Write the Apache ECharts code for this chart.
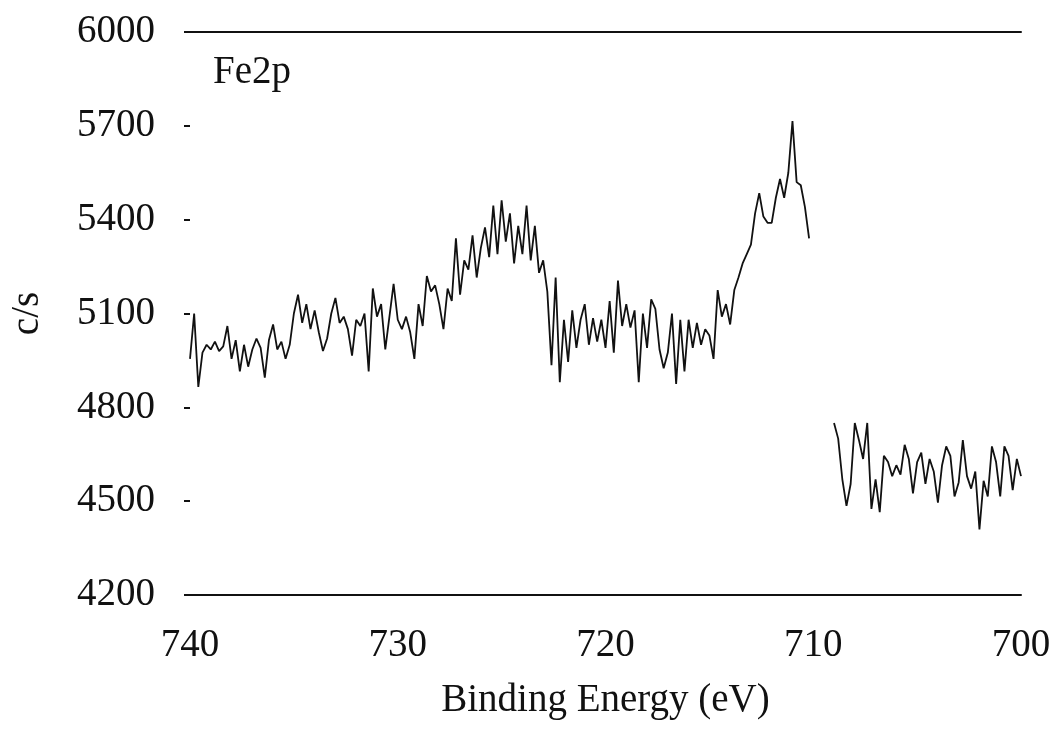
<!DOCTYPE html>
<html>
<head>
<meta charset="utf-8">
<title>Fe2p</title>
<script src="https://cdn.jsdelivr.net/npm/echarts@6/dist/echarts.min.js"></script>
<style>
  html, body { margin: 0; padding: 0; background: #ffffff; }
  #chart { width: 1058px; height: 739px; }
</style>
</head>
<body>
<div id="chart"></div>
<script>
// Fe2p XPS scan: binding energy (eV) against count rate (c/s), 0.2 eV steps
const bindingEnergy = [
  740.0, 739.8, 739.6, 739.4, 739.2, 739.0, 738.8, 738.6, 738.4, 738.2,
  738.0, 737.8, 737.6, 737.4, 737.2, 737.0, 736.8, 736.6, 736.4, 736.2,
  736.0, 735.8, 735.6, 735.4, 735.2, 735.0, 734.8, 734.6, 734.4, 734.2,
  734.0, 733.8, 733.6, 733.4, 733.2, 733.0, 732.8, 732.6, 732.4, 732.2,
  732.0, 731.8, 731.6, 731.4, 731.2, 731.0, 730.8, 730.6, 730.4, 730.2,
  730.0, 729.8, 729.6, 729.4, 729.2, 729.0, 728.8, 728.6, 728.4, 728.2,
  728.0, 727.8, 727.6, 727.4, 727.2, 727.0, 726.8, 726.6, 726.4, 726.2,
  726.0, 725.8, 725.6, 725.4, 725.2, 725.0, 724.8, 724.6, 724.4, 724.2,
  724.0, 723.8, 723.6, 723.4, 723.2, 723.0, 722.8, 722.6, 722.4, 722.2,
  722.0, 721.8, 721.6, 721.4, 721.2, 721.0, 720.8, 720.6, 720.4, 720.2,
  720.0, 719.8, 719.6, 719.4, 719.2, 719.0, 718.8, 718.6, 718.4, 718.2,
  718.0, 717.8, 717.6, 717.4, 717.2, 717.0, 716.8, 716.6, 716.4, 716.2,
  716.0, 715.8, 715.6, 715.4, 715.2, 715.0, 714.8, 714.6, 714.4, 714.2,
  714.0, 713.8, 713.6, 713.4, 713.2, 713.0, 712.8, 712.6, 712.4, 712.2,
  712.0, 711.8, 711.6, 711.4, 711.2, 711.0, 710.8, 710.6, 710.4, 710.2,
  710.0, 709.8, 709.6, 709.4, 709.2, 709.0, 708.8, 708.6, 708.4, 708.2,
  708.0, 707.8, 707.6, 707.4, 707.2, 707.0, 706.8, 706.6, 706.4, 706.2,
  706.0, 705.8, 705.6, 705.4, 705.2, 705.0, 704.8, 704.6, 704.4, 704.2,
  704.0, 703.8, 703.6, 703.4, 703.2, 703.0, 702.8, 702.6, 702.4, 702.2,
  702.0, 701.8, 701.6, 701.4, 701.2, 701.0, 700.8, 700.6, 700.4, 700.2,
  700.0
];

// counts per second; null marks points missing from the scan
const countRate = [
  4955, 5100, 4865, 4975, 5000, 4985, 5010, 4980, 4995, 5060,
  4955, 5015, 4915, 5000, 4930, 4985, 5020, 4990, 4895, 5015,
  5065, 4985, 5010, 4955, 5000, 5100, 5160, 5070, 5130, 5050,
  5110, 5040, 4980, 5020, 5100, 5150, 5070, 5090, 5050, 4965,
  5080, 5060, 5100, 4915, 5180, 5090, 5130, 4985, 5090, 5195,
  5080, 5050, 5090, 5040, 4955, 5130, 5060, 5220, 5170, 5190,
  5130, 5050, 5180, 5140, 5340, 5160, 5270, 5240, 5350, 5215,
  5310, 5375, 5280, 5445, 5290, 5462, 5330, 5420, 5260, 5380,
  5290, 5445, 5270, 5380, 5230, 5270, 5170, 4935, 5215, 4880,
  5080, 4945, 5110, 4990, 5080, 5130, 5000, 5085, 5010, 5080,
  4990, 5140, 4975, 5205, 5060, 5130, 5055, 5110, 4880, 5100,
  4990, 5145, 5115, 4985, 4925, 4975, 5100, 4875, 5080, 4915,
  5080, 4990, 5070, 5000, 5050, 5030, 4955, 5175, 5090, 5130,
  5065, 5175, 5215, 5260, 5290, 5320, 5420, 5485, 5410, 5390,
  5390, 5470, 5530, 5470, 5550, 5715, 5520, 5510, 5440, 5340,
  null, null, null, null, null, 4750, 4700, 4570, 4485, 4555,
  4750, 4695, 4635, 4750, 4475, 4570, 4465, 4645, 4625, 4580,
  4615, 4585, 4680, 4635, 4525, 4625, 4655, 4555, 4635, 4595,
  4495, 4615, 4675, 4645, 4515, 4560, 4695, 4580, 4540, 4595,
  4410, 4565, 4515, 4675, 4625, 4515, 4675, 4645, 4535, 4635,
  4580
];

const energyTicks = { min: 700, max: 740, interval: 10 };
const countTicks = { min: 4200, max: 6000, interval: 300 };

const seriesData = bindingEnergy.map((e, i) => [e, countRate[i]]);

const serif = '"Liberation Serif", "Times New Roman", serif';
const ink = '#111111';

const chart = echarts.init(document.getElementById('chart'), null, { renderer: 'canvas' });

chart.setOption({
  backgroundColor: '#ffffff',
  animation: false,
  grid: { left: 177, right: 37, top: 32, bottom: 144, containLabel: false },
  graphic: [{
    type: 'text',
    left: 213,
    top: 53,
    style: { text: 'Fe2p', font: '39px ' + serif, fill: ink }
  }],
  xAxis: [{
    type: 'value',
    inverse: true,
    min: energyTicks.min,
    max: energyTicks.max,
    interval: energyTicks.interval,
    position: 'bottom',
    name: 'Binding Energy (eV)',
    nameLocation: 'middle',
    nameGap: 86,
    nameTextStyle: { fontFamily: serif, fontSize: 39, color: ink },
    axisLine: { show: true, lineStyle: { color: ink, width: 2 } },
    axisTick: { show: false },
    splitLine: { show: false },
    axisLabel: { fontFamily: serif, fontSize: 39, color: ink, margin: 31 }
  }, {
    // plain frame line along the top of the plot
    type: 'value',
    inverse: true,
    min: energyTicks.min,
    max: energyTicks.max,
    position: 'top',
    axisLine: { show: true, lineStyle: { color: ink, width: 2 } },
    axisTick: { show: false },
    axisLabel: { show: false },
    splitLine: { show: false }
  }],
  yAxis: {
    type: 'value',
    min: countTicks.min,
    max: countTicks.max,
    interval: countTicks.interval,
    name: 'c/s',
    nameLocation: 'middle',
    nameRotate: 90,
    nameGap: 143,
    nameTextStyle: { fontFamily: serif, fontSize: 39, color: ink },
    axisLine: { show: false },
    axisTick: { show: true, length: 6, lineStyle: { color: ink, width: 2 } },
    splitLine: { show: false },
    axisLabel: {
      fontFamily: serif, fontSize: 39, color: ink, margin: 35,
      formatter: (v) => String(v)
    }
  },
  series: [{
    type: 'line',
    xAxisIndex: 0,
    data: seriesData,
    showSymbol: false,
    connectNulls: false,
    lineStyle: { color: ink, width: 1.8 },
    silent: true
  }]
});
</script>
</body>
</html>
